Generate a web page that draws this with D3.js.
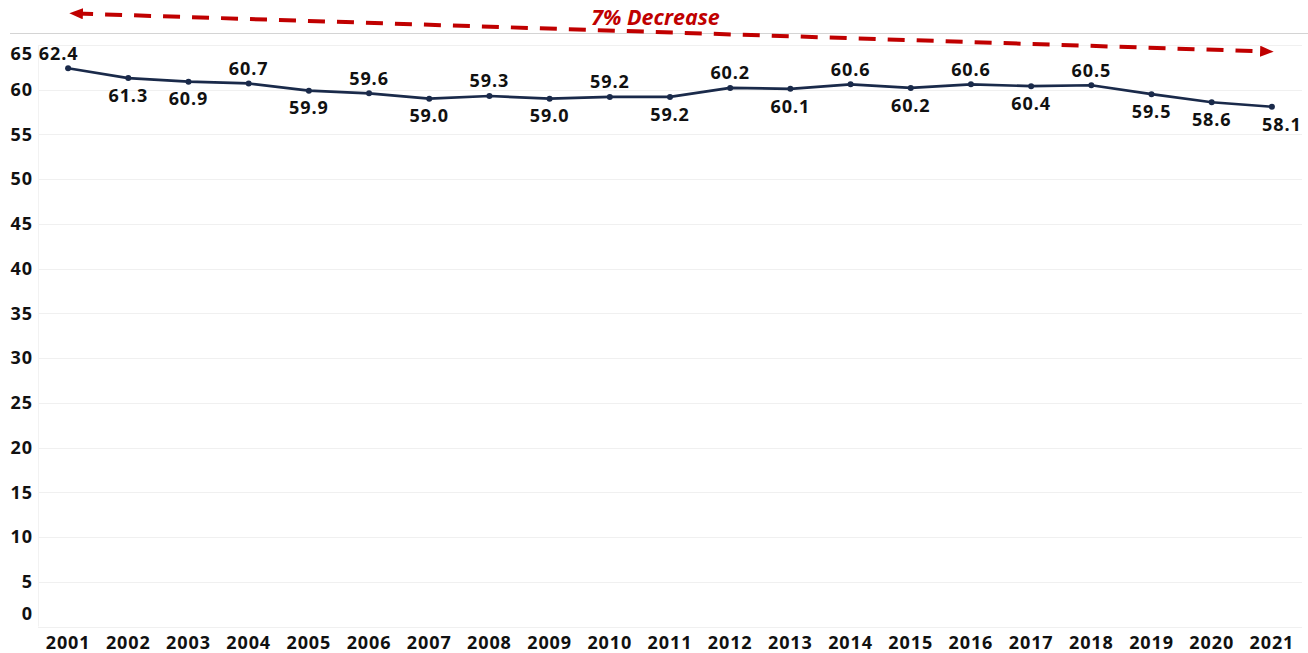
<!DOCTYPE html>
<html>
<head>
<meta charset="utf-8">
<script src="https://cdn.jsdelivr.net/npm/d3@7"></script>
<style>
  html, body { margin: 0; padding: 0; background: #ffffff; }
  svg { display: block; font-family: "Open Sans", "Noto Sans", sans-serif; }
</style>
</head>
<body>
<svg id="chart" width="1308" height="653"></svg>
<script>
// Yearly values
const years = ["2001","2002","2003","2004","2005","2006","2007","2008","2009","2010","2011",
               "2012","2013","2014","2015","2016","2017","2018","2019","2020","2021"];
const values = [62.4, 61.3, 60.9, 60.7, 59.9, 59.6, 59.0, 59.3, 59.0, 59.2, 59.2,
                60.2, 60.1, 60.6, 60.2, 60.6, 60.4, 60.5, 59.5, 58.6, 58.1];
// Where each value label sits relative to its point
const labelSide = ["above","below","below","above","below","above","below","above","below","above","below",
                   "above","below","above","below","above","below","above","below","below","below"];
const yTicks = [0, 5, 10, 15, 20, 25, 30, 35, 40, 45, 50, 55, 60, 65];
const trendLabel = "7% Decrease";

const svg = d3.select("#chart");
const W = 1308, H = 653;
const margin = { top: 45, right: 6, bottom: 26, left: 38 };
const plotBottom = H - margin.bottom - 0.5;

const x = d3.scaleBand().domain(years).range([margin.left, W - margin.right]).paddingInner(0).paddingOuter(0);
const y = d3.scaleLinear().domain([0, 65]).range([plotBottom, margin.top]);
const cx = d => x(d) + x.bandwidth() / 2;

const textStyle = sel => sel
  .attr("font-size", 18).attr("font-weight", 700)
  .attr("letter-spacing", 0.9).attr("fill", "#111");

// top rule
svg.append("line")
  .attr("x1", 10).attr("x2", W).attr("y1", 33.5).attr("y2", 33.5)
  .attr("stroke", "#d4d4d4").attr("stroke-width", 1.2);

// gridlines
svg.append("g").selectAll("line").data(yTicks).join("line")
  .attr("x1", margin.left).attr("x2", W - margin.right)
  .attr("y1", d => Math.round(y(d)) + 0.5).attr("y2", d => Math.round(y(d)) + 0.5)
  .attr("stroke", "#f0f0f0").attr("stroke-width", 1);

// left edge of plot
svg.append("line")
  .attr("x1", margin.left + 0.5).attr("x2", margin.left + 0.5)
  .attr("y1", margin.top).attr("y2", plotBottom)
  .attr("stroke", "#f2f2f2");

// y tick labels (kept inside the plot's vertical span)
svg.append("g").selectAll("text").data(yTicks).join("text")
  .attr("x", 33)
  .attr("y", d => Math.min(Math.max(y(d), 53.5), 614))
  .attr("dy", "0.35em")
  .attr("text-anchor", "end")
  .call(textStyle)
  .text(d => d);

// x axis labels
svg.append("g").selectAll("text").data(years).join("text")
  .attr("x", d => cx(d))
  .attr("y", 642.5)
  .attr("dy", "0.35em")
  .attr("text-anchor", "middle")
  .call(textStyle)
  .text(d => d);

// series line
const pts = years.map((yr, i) => ({ year: yr, value: values[i], side: labelSide[i] }));
svg.append("path")
  .datum(pts)
  .attr("fill", "none")
  .attr("stroke", "#1a2a4a")
  .attr("stroke-width", 2.7)
  .attr("stroke-linejoin", "round")
  .attr("d", d3.line().x(d => cx(d.year)).y(d => y(d.value)));

svg.append("g").selectAll("circle").data(pts).join("circle")
  .attr("cx", d => cx(d.year)).attr("cy", d => y(d.value))
  .attr("r", 3).attr("fill", "#1a2a4a");

// value labels
svg.append("g").selectAll("text").data(pts).join("text")
  .attr("x", (d, i) => i === 0 ? cx(d.year) - 9.5 : (i === pts.length - 1 ? cx(d.year) + 10 : cx(d.year)))
  .attr("y", d => y(d.value) + (d.side === "above" ? -15 : 17.5))
  .attr("dy", "0.35em")
  .attr("text-anchor", "middle")
  .call(textStyle)
  .text(d => d.value.toFixed(1));

// trend arrow
const defs = svg.append("defs");
defs.append("marker")
  .attr("id", "head").attr("viewBox", "0 0 10 10")
  .attr("refX", 5).attr("refY", 5)
  .attr("markerWidth", 3.4).attr("markerHeight", 2.8)
  .attr("markerUnits", "strokeWidth")
  .attr("orient", "auto-start-reverse")
  .attr("preserveAspectRatio", "none")
  .append("path").attr("d", "M0,0 L10,5 L0,10 Z").attr("fill", "#c00000");

const ax1 = cx(years[0]) + 1, ay1 = 13.5, ax2 = cx(years[years.length - 1]) + 2, ay2 = 51.5;
svg.append("line")
  .attr("x1", ax1 + 7).attr("y1", ay1).attr("x2", ax2 - 7).attr("y2", ay2)
  .attr("stroke", "#c00000").attr("stroke-width", 4)
  .attr("stroke-dasharray", "17,12")
  .attr("marker-start", "url(#head)")
  .attr("marker-end", "url(#head)");

svg.append("text")
  .attr("x", 655.5).attr("y", 17)
  .attr("dy", "0.35em")
  .attr("text-anchor", "middle")
  .attr("font-size", 21.5).attr("font-weight", 700).attr("font-style", "italic")
  .attr("fill", "#c00000")
  .text(trendLabel);
</script>
</body>
</html>
